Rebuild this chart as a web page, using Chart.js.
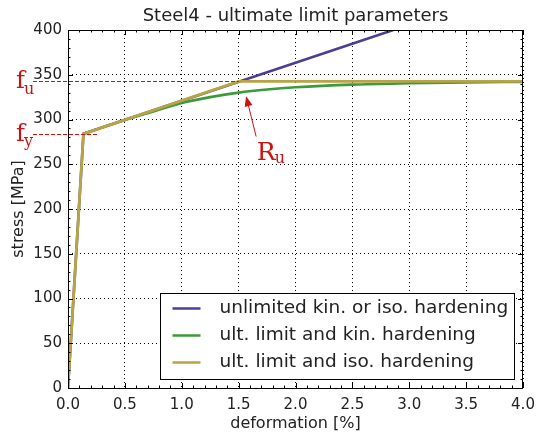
<!DOCTYPE html>
<html>
<head>
<meta charset="utf-8">
<script src="https://cdn.jsdelivr.net/npm/chart.js@4.4.0/dist/chart.umd.min.js"></script>
<style>
  html, body { margin: 0; padding: 0; background: #fff; }
</style>
</head>
<body>
<canvas id="steelChart" width="541" height="437"></canvas>
<script>
// values
const seriesLabels = ['unlimited kin. or iso. hardening', 'ult. limit and kin. hardening', 'ult. limit and iso. hardening'];
const unlimitedStrain = [0, 0.136, 2.86];
const unlimitedStress = [0, 284, 400];
// elastic branch is shared with the other two curves (hidden under them)
const kinStrain = [0.136, 0.3, 0.5, 0.75, 1.0, 1.25, 1.5, 1.75, 2.0, 2.5, 3.0, 3.5, 4.0];
const kinStress = [284, 291, 299.5, 309, 318.5, 325, 330, 333.5, 336, 339, 340.5, 341.5, 342];
const isoStrain = [0, 0.136, 1.5, 4.0];
const isoStress = [0, 284, 342.5, 342.5];
const xTicks = [0, 0.5, 1.0, 1.5, 2.0, 2.5, 3.0, 3.5, 4.0];
const yTicks = [0, 50, 100, 150, 200, 250, 300, 350, 400];

const fy = 284;
const fu = 342.5;
const fyLineEnd = 0.26;
const fuLineEnd = 1.5;
const arrowTip = [1.566, 326];
const arrowTail = [1.654, 281];
const ruLabel = [1.66, 255];

const colors = ['#4a3f94', '#3b9a3b', '#b8a446'];
const red = '#cc1111';
const font = '"DejaVu Sans", sans-serif';
const serif = '"DejaVu Serif", serif';

const toPoints = (xs, ys) => xs.map((x, i) => ({ x: x, y: ys[i] }));

const decorations = {
  id: 'decorations',
  afterDatasetsDraw(chart) {
    const { ctx, chartArea: a, scales: { x, y } } = chart;
    ctx.save();

    // frame
    ctx.strokeStyle = '#000';
    ctx.lineWidth = 1;
    ctx.setLineDash([]);
    ctx.strokeRect(Math.round(a.left) + 0.5, Math.round(a.top) + 0.5, Math.round(a.right - a.left) - 1, Math.round(a.bottom - a.top));

    // inward ticks on all four sides
    const seg = (x1, y1, x2, y2) => { ctx.beginPath(); ctx.moveTo(x1, y1); ctx.lineTo(x2, y2); ctx.stroke(); };
    for (let i = 0; i <= 40; i++) {
      const px = Math.round(x.getPixelForValue(i / 10)) + 0.5;
      const len = i % 5 === 0 ? 5 : 2.5;
      seg(px, a.bottom, px, a.bottom - len);
      seg(px, a.top, px, a.top + len);
    }
    for (let i = 0; i <= 40; i++) {
      const py = Math.round(y.getPixelForValue(i * 10)) + 0.5;
      const len = i % 5 === 0 ? 5 : 2.5;
      seg(a.left, py, a.left + len, py);
      seg(a.right, py, a.right - len, py);
    }

    // fy and fu markers
    ctx.strokeStyle = red;
    ctx.setLineDash([4, 2]);
    const fyPx = Math.round(y.getPixelForValue(fy)) + 0.5;
    const fuPx = Math.round(y.getPixelForValue(fu)) + 0.5;
    seg(33, fyPx, x.getPixelForValue(fyLineEnd), fyPx);
    seg(33, fuPx, x.getPixelForValue(fuLineEnd), fuPx);
    ctx.setLineDash([]);

    ctx.fillStyle = red;
    ctx.textBaseline = 'alphabetic';
    ctx.textAlign = 'left';
    ctx.font = '24px ' + serif;
    ctx.fillText('f', 16, fuPx + 6.5);
    ctx.fillText('f', 16, fyPx + 6.5);
    ctx.font = '16px ' + serif;
    ctx.fillText('u', 24, fuPx + 12);
    ctx.fillText('y', 24, fyPx + 11.5);

    // Ru arrow
    const tx = x.getPixelForValue(arrowTip[0]), ty = y.getPixelForValue(arrowTip[1]);
    const sx = x.getPixelForValue(arrowTail[0]), sy = y.getPixelForValue(arrowTail[1]);
    const ang = Math.atan2(ty - sy, tx - sx);
    ctx.lineWidth = 1;
    seg(sx, sy, tx - 7 * Math.cos(ang), ty - 7 * Math.sin(ang));
    ctx.beginPath();
    ctx.moveTo(tx, ty);
    ctx.lineTo(tx - 10 * Math.cos(ang) + 4 * Math.sin(ang), ty - 10 * Math.sin(ang) - 4 * Math.cos(ang));
    ctx.lineTo(tx - 10 * Math.cos(ang) - 4 * Math.sin(ang), ty - 10 * Math.sin(ang) + 4 * Math.cos(ang));
    ctx.closePath();
    ctx.fill();
    const rx = x.getPixelForValue(ruLabel[0]), ry = y.getPixelForValue(ruLabel[1]);
    ctx.font = '25px ' + serif;
    ctx.fillText('R', rx, ry);
    ctx.font = '16px ' + serif;
    ctx.fillText('u', rx + 18, ry + 3);

    // legend
    const lw = 354, lh = 86;
    const lx = Math.round(a.right - 9 - lw) + 0.5, ly = Math.round(a.bottom - 9 - lh) + 0.5;
    ctx.fillStyle = '#fff';
    ctx.fillRect(lx, ly, lw, lh);
    ctx.strokeStyle = '#000';
    ctx.lineWidth = 1;
    ctx.strokeRect(lx, ly, lw, lh);
    ctx.font = '18.5px ' + font;
    ctx.textBaseline = 'middle';
    chart.data.datasets.forEach((ds, i) => {
      const rowY = ly + 15 + i * 27;
      ctx.strokeStyle = ds.borderColor;
      ctx.lineWidth = 2.5;
      seg(lx + 12, rowY, lx + 40, rowY);
      ctx.fillStyle = '#222';
      ctx.fillText(ds.label, lx + 59, rowY);
    });

    // title and axis labels
    ctx.fillStyle = '#222';
    ctx.textAlign = 'center';
    ctx.font = '18px ' + font;
    ctx.fillText('Steel4 - ultimate limit parameters', (a.left + a.right) / 2, 16);
    ctx.font = '16px ' + font;
    ctx.fillText('deformation [%]', (a.left + a.right) / 2, 424);
    ctx.translate(19, (a.top + a.bottom) / 2);
    ctx.rotate(-Math.PI / 2);
    ctx.fillText('stress [MPa]', 0, 0);
    ctx.restore();
  }
};

const gridOpts = { color: '#000', lineWidth: 1, drawTicks: false };
const tickFont = { family: 'DejaVu Sans', size: 15 };

new Chart(document.getElementById('steelChart').getContext('2d'), {
  type: 'line',
  data: {
    datasets: [
      { label: seriesLabels[0], data: toPoints(unlimitedStrain, unlimitedStress), borderColor: colors[0], borderWidth: 2.6, pointRadius: 0, order: 3 },
      { label: seriesLabels[1], data: toPoints(kinStrain, kinStress), borderColor: colors[1], borderWidth: 2.6, pointRadius: 0, cubicInterpolationMode: 'monotone', order: 2 },
      { label: seriesLabels[2], data: toPoints(isoStrain, isoStress), borderColor: colors[2], borderWidth: 2.8, pointRadius: 0, order: 1 }
    ]
  },
  options: {
    responsive: false,
    animation: false,
    layout: { padding: { top: 30, right: 18, left: 0, bottom: 0 } },
    plugins: { legend: { display: false }, tooltip: { enabled: false }, title: { display: false } },
    scales: {
      x: {
        type: 'linear', min: 0, max: 4,
        afterFit: s => { s.height = 49; s.paddingLeft = 0; s.paddingRight = 0; },
        afterBuildTicks: s => { s.ticks = xTicks.map(v => ({ value: v })); },
        ticks: { font: tickFont, color: '#222', padding: 8, maxRotation: 0, callback: v => v.toFixed(1) },
        grid: gridOpts,
        border: { display: false, dash: [1, 3] }
      },
      y: {
        min: 0, max: 400,
        afterFit: s => { s.width = 68; s.paddingTop = 0; s.paddingBottom = 0; },
        afterBuildTicks: s => { s.ticks = yTicks.map(v => ({ value: v })); },
        ticks: { font: tickFont, color: '#222', padding: 6 },
        grid: gridOpts,
        border: { display: false, dash: [1, 3] }
      }
    }
  },
  plugins: [decorations]
});
</script>
</body>
</html>
